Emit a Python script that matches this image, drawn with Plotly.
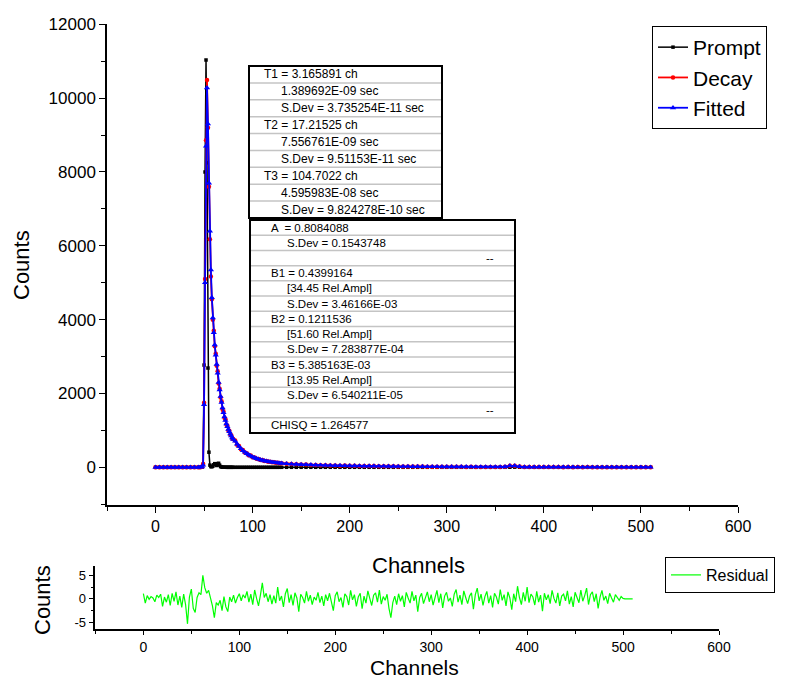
import plotly.graph_objects as go

# ---------------- data ----------------
channels = [0, 4, 8, 12, 16, 20, 24, 28, 32, 36, 40, 44, 46, 48,
            49, 50, 51, 52, 53, 54, 55, 56, 57, 58, 59, 60, 61, 62, 63, 64,
            65, 66, 67, 68, 69, 70, 71, 72, 73, 74, 75, 76, 77, 78, 79, 80,
            82, 84, 86, 88, 90, 92, 94, 96, 98, 100, 102, 104, 106, 108, 110,
            112, 114, 116, 118, 120, 122, 124, 126, 128, 130,
            135, 140, 145, 150, 155, 160, 165, 170, 175, 180, 185, 190, 195, 200,
            205, 210, 215, 220, 225, 230, 235, 240, 245, 250, 255, 260, 265, 270,
            275, 280, 285, 290, 295, 300, 305, 310, 315, 320, 325, 330, 335, 340,
            345, 350, 355, 360, 365, 370, 375, 380, 385, 390, 395, 400, 405, 410,
            415, 420, 425, 430, 435, 440, 445, 450, 455, 460, 465, 470, 475, 480,
            485, 490, 495, 500, 505, 510]

prompt = [0, 0, 0, 0, 0, 0, 0, 0, 0, 0, 0, 0, 0, 5,
          80, 2770, 8000, 11030, 8250, 2690, 410, 60, 20, 15, 30, 70, 100, 90, 50, 100,
          110, 60, 20, 10, 5, 3, 2, 2, 1, 1, 1, 1, 1, 1, 1, 1,
          1, 1, 1, 1, 1, 1, 1, 1, 1, 1, 1, 1, 1, 1, 1,
          1, 1, 1, 1, 1, 1, 1, 1, 1, 1,
          1, 1, 1, 1, 1, 1, 1, 1, 1, 1, 1, 1, 1, 1,
          1, 1, 1, 1, 1, 1, 1, 1, 1, 1, 1, 1, 1, 1,
          1, 1, 1, 1, 1, 1, 1, 1, 1, 1, 1, 1, 1, 1,
          1, 1, 1, 1, 3, 5, 3, 1, 1, 1, 1, 1, 1, 1,
          1, 1, 1, 1, 1, 1, 1, 1, 1, 1, 1, 1, 1, 1,
          1, 1, 1, 1, 1, 1]

decay = [3, 1, 2, 4, 2, 3, 1, 2, 3, 2, 1, 3, 4, 15,
         90, 1750, 5100, 8860, 10490, 9200, 7600, 6180, 5170, 4550, 4000, 3700, 3280, 3080, 2750, 2600,
         2270, 2130, 1890, 1790, 1580, 1510, 1340, 1300, 1160, 1120, 1000, 990, 880, 870, 780, 770,
         730, 615, 580, 490, 470, 400, 385, 330, 318, 275, 268, 232, 228, 198, 197,
         172, 172, 151, 153, 135, 136, 121, 122, 110, 111,
         100, 88, 85, 75, 74, 65, 65, 57, 58, 50, 52, 45, 47, 40,
         42, 36, 38, 33, 35, 29, 31, 27, 28, 24, 25, 22, 23, 20,
         21, 18, 19, 16, 17, 14, 16, 13, 14, 12, 13, 11, 12, 10,
         11, 9, 11, 18, 42, 40, 21, 8, 9, 7, 9, 6, 8, 6,
         7, 5, 7, 5, 6, 4, 6, 4, 5, 3, 5, 3, 5, 3,
         4, 2, 4, 2, 4, 2]

fitted = [2, 2, 2, 2, 2, 2, 2, 2, 2, 2, 2, 2, 3, 10,
          60, 1700, 5000, 8700, 10280, 9300, 7700, 6400, 5350, 4600, 4050, 3650, 3320, 3040, 2790, 2550,
          2300, 2100, 1920, 1760, 1610, 1480, 1370, 1270, 1180, 1100, 1030, 965, 905, 850, 800, 755,
          710, 630, 565, 505, 455, 410, 372, 338, 308, 282, 259, 239, 221, 205, 191,
          178, 167, 157, 148, 140, 132, 125, 119, 113, 108,
          98, 90, 83, 77, 72, 67, 63, 59, 56, 52, 50, 47, 45, 42,
          40, 38, 36, 34, 33, 31, 30, 28, 27, 25, 24, 23, 22, 21,
          20, 19, 18, 17, 16, 15, 15, 14, 13, 13, 12, 12, 11, 11,
          10, 10, 10, 16, 40, 42, 20, 9, 8, 8, 8, 7, 7, 7,
          6, 6, 6, 6, 5, 5, 5, 5, 4, 4, 4, 4, 4, 4,
          3, 3, 3, 3, 3, 3]

res_channels = list(range(0, 512, 2))
residual = [1.1, -0.9, 0.7, -0.1, 0.5, 0.2, -0.6, 0.8, 0.3, 1.0,
            -1.6, 0.4, -0.7, 0.9, -1.4, 1.2, -0.5, 1.5, -1.3, 0.6,
            -1.8, 1.0, -1.2, -5.3, 0.4, 2.1, -2.0, -2.9, 0.3, 1.3,
            0.9, 5.0, 2.4, 1.2, 1.8, 0.2, -1.5, -4.0, -0.8, -1.3,
            -0.3, -2.5, 0.5, -1.7, -2.7, 0.4, -0.6, 0.8, -0.9, 0.3,
            1.1, -0.4, 0.9, 0.2, 1.6, -0.7, 1.0, -1.2, 1.9, 0.1,
            -1.5, 0.8, 3.4, 0.3, 1.2, -0.6, 0.9, -1.1, 0.7, -0.9,
            2.5, -0.4, 0.6, -1.7, 1.1, 2.2, -0.8, 0.9, -1.4, 1.3,
            0.2, -2.7, 1.0, 0.3, -0.9, 1.6, -0.5, 0.8, -1.2, 0.4,
            -0.3, 1.4, -0.8, 0.6, -1.5, 0.9, -0.4, 1.2, -1.0, -2.5,
            0.7, 1.5, -0.6, 0.3, -1.8, 1.1, 0.5, -1.3, 1.8, -0.2,
            0.9, -1.6, 0.4, 1.2, -2.1, 0.6, -0.9, 1.7, 0.1, -1.4,
            0.8, 1.3, -0.7, 1.9, -1.1, 0.5, -0.3, 1.0, -2.0, -4.0,
            -0.8, 0.6, -1.2, 1.1, -0.5, 0.7, -1.7, 1.4, 0.2, -0.9,
            1.6, -0.4, 0.8, -2.7, 0.3, 1.2, -1.0, 0.5, 1.5, -0.6,
            0.9, -1.3, 0.4, 1.8, -0.8, 1.1, -1.9, 0.6, 1.4, -0.5,
            0.2, -1.6, 1.0, 2.0, -0.7, 0.8, -1.2, 1.7, 0.3, -1.0,
            0.6, 1.3, -2.2, 0.9, 2.3, -0.4, 1.0, -1.4, 0.5, 1.6,
            -0.9, 0.7, -1.8, 1.2, 0.4, -1.1, 2.0, -0.3, 0.9, -1.5,
            1.5, 0.2, -2.3, 1.1, -0.6, 2.7, 0.3, -1.2, 1.4, -0.5,
            2.5, -0.8, 1.0, 0.4, -1.3, 1.6, -0.7, 0.8, -2.6, 1.2,
            -0.2, 0.9, -1.0, 1.8, 0.1, -0.9, 1.3, -1.5, 0.6, 1.0,
            -0.4, 1.7, -1.1, 0.5, -1.7, 1.4, 0.3, -0.8, 1.9, -0.5,
            0.7, 2.3, -1.2, 0.9, 1.5, -0.6, 1.1, -2.0, 0.4, 1.8,
            -0.3, 0.6, -1.0, 1.2, 0.2, -0.7, 0.9, 0.4, -0.3, 0.5,
            0.1, 0.0, 0.0, 0.0, 0.0, 0.0]

table1_rows = ["T1 = 3.165891 ch", "1.389692E-09 sec", "S.Dev = 3.735254E-11 sec",
               "T2 = 17.21525 ch", "7.556761E-09 sec", "S.Dev = 9.51153E-11 sec",
               "T3 = 104.7022 ch", "4.595983E-08 sec", "S.Dev = 9.824278E-10 sec"]
table1_indent = [0, 1, 1, 0, 1, 1, 0, 1, 1]

table2_rows = ["A  = 0.8084088", "S.Dev = 0.1543748", "--",
               "B1 = 0.4399164", "[34.45 Rel.Ampl]", "S.Dev = 3.46166E-03",
               "B2 = 0.1211536", "[51.60 Rel.Ampl]", "S.Dev = 7.283877E-04",
               "B3 = 5.385163E-03", "[13.95 Rel.Ampl]", "S.Dev = 6.540211E-05",
               "--", "CHISQ = 1.264577"]
table2_indent = [0, 1, 2, 0, 1, 1, 0, 1, 1, 0, 1, 1, 2, 0]

# ---------------- layout helpers ----------------
W, H = 798, 680
FONT = "Liberation Sans, Arial, sans-serif"


def fx(p):
    return p / W


def fy(p):
    return 1 - p / H


fig = go.Figure()

fig.add_trace(go.Scatter(x=channels, y=prompt, name="Prompt", mode="lines+markers",
                         line=dict(color="black", width=1.5),
                         marker=dict(symbol="square", size=3.5, color="black"),
                         xaxis="x", yaxis="y", legend="legend"))
fig.add_trace(go.Scatter(x=channels, y=decay, name="Decay", mode="lines+markers",
                         line=dict(color="#ff0000", width=1.8),
                         marker=dict(symbol="circle", size=4.5, color="#ff0000"),
                         xaxis="x", yaxis="y", legend="legend"))
fig.add_trace(go.Scatter(x=channels, y=fitted, name="Fitted", mode="lines+markers",
                         line=dict(color="#0000ff", width=1.8),
                         marker=dict(symbol="triangle-up", size=5.5, color="#0000ff"),
                         xaxis="x", yaxis="y", legend="legend"))
fig.add_trace(go.Scatter(x=res_channels, y=residual, name="Residual", mode="lines",
                         line=dict(color="#00ff00", width=1.2),
                         xaxis="x2", yaxis="y2", legend="legend2"))

axis_common = dict(showline=True, linecolor="black", linewidth=1.5, showgrid=False,
                   zeroline=False, ticks="outside", tickcolor="black", tickwidth=1.2,
                   mirror=False)

shapes = []
annotations = []

# table 1
t1_x0, t1_x1, t1_y0, t1_y1 = 249, 442, 66, 218
n1 = len(table1_rows)
h1 = (t1_y1 - t1_y0) / n1
shapes.append(dict(type="rect", xref="paper", yref="paper", x0=fx(t1_x0), x1=fx(t1_x1),
                   y0=fy(t1_y1), y1=fy(t1_y0), fillcolor="white",
                   line=dict(color="black", width=2), layer="above"))
for i in range(1, n1):
    yy = t1_y0 + i * h1
    shapes.append(dict(type="line", xref="paper", yref="paper", x0=fx(t1_x0 + 1), x1=fx(t1_x1 - 1),
                       y0=fy(yy), y1=fy(yy), line=dict(color="#c4c4c4", width=1.5)))
for i, (txt, ind) in enumerate(zip(table1_rows, table1_indent)):
    yy = t1_y0 + (i + 0.5) * h1
    annotations.append(dict(xref="paper", yref="paper", x=fx(262 if ind == 0 else 279), y=fy(yy),
                            text=txt, showarrow=False, xanchor="left", yanchor="middle",
                            font=dict(family=FONT, size=12, color="black")))

# table 2
t2_x0, t2_x1, t2_y0, t2_y1 = 250, 515, 220, 433
n2 = len(table2_rows)
h2 = (t2_y1 - t2_y0) / n2
shapes.append(dict(type="rect", xref="paper", yref="paper", x0=fx(t2_x0), x1=fx(t2_x1),
                   y0=fy(t2_y1), y1=fy(t2_y0), fillcolor="white",
                   line=dict(color="black", width=2), layer="above"))
for i in range(1, n2):
    yy = t2_y0 + i * h2
    shapes.append(dict(type="line", xref="paper", yref="paper", x0=fx(t2_x0 + 1), x1=fx(t2_x1 - 1),
                       y0=fy(yy), y1=fy(yy), line=dict(color="#c4c4c4", width=1.5)))
for i, (txt, ind) in enumerate(zip(table2_rows, table2_indent)):
    yy = t2_y0 + (i + 0.5) * h2
    if ind == 2:
        annotations.append(dict(xref="paper", yref="paper", x=fx(496), y=fy(yy),
                                text=txt, showarrow=False, xanchor="right", yanchor="middle",
                                font=dict(family=FONT, size=11.5, color="black")))
    else:
        annotations.append(dict(xref="paper", yref="paper", x=fx(269 if ind == 0 else 285), y=fy(yy),
                                text=txt, showarrow=False, xanchor="left", yanchor="middle",
                                font=dict(family=FONT, size=11.5, color="black")))

# axis titles
title_font = dict(family=FONT, size=22, color="black")
annotations += [
    dict(xref="paper", yref="paper", x=fx(22), y=fy(265), text="Counts", textangle=-90,
         showarrow=False, xanchor="center", yanchor="middle", font=title_font),
    dict(xref="paper", yref="paper", x=fx(418), y=fy(565), text="Channels",
         showarrow=False, xanchor="center", yanchor="middle", font=title_font),
    dict(xref="paper", yref="paper", x=fx(42), y=fy(600), text="Counts", textangle=-90,
         showarrow=False, xanchor="center", yanchor="middle", font=title_font),
    dict(xref="paper", yref="paper", x=fx(414), y=0, text="Channels",
         showarrow=False, xanchor="center", yanchor="bottom", borderpad=0,
         font=dict(family=FONT, size=21, color="black")),
]

fig.update_layout(
    width=W, height=H, margin=dict(l=0, r=0, t=0, b=0, autoexpand=False),
    paper_bgcolor="white", plot_bgcolor="white",
    font=dict(family=FONT, color="black"),
    xaxis=dict(axis_common, domain=[fx(107), fx(738)], range=[-50, 600], anchor="y",
               tick0=0, dtick=100, ticklen=6, tickfont=dict(size=16), tickformat="d",
               minor=dict(dtick=50, tick0=0, ticklen=4, ticks="outside", tickcolor="black")),
    yaxis=dict(axis_common, domain=[fy(505), fy(24.3)], range=[-1020, 12000], anchor="x",
               tick0=0, dtick=2000, ticklen=6, tickfont=dict(size=17), tickformat="d",
               minor=dict(dtick=1000, tick0=0, ticklen=4, ticks="outside", tickcolor="black")),
    xaxis2=dict(axis_common, domain=[fx(95.4), fx(719)], range=[-50, 600], anchor="y2",
                tick0=0, dtick=100, ticklen=4, tickfont=dict(size=14), tickformat="d",
                minor=dict(dtick=50, tick0=0, ticklen=3, ticks="outside", tickcolor="black")),
    yaxis2=dict(axis_common, domain=[fy(629), fy(566)], range=[-6.4, 7], anchor="x2",
                tickvals=[-5, 0, 5], ticktext=["-5", "0", "5"], ticklen=5, tickfont=dict(size=13),
                minor=dict(dtick=2.5, tick0=0, ticklen=3, ticks="outside", tickcolor="black")),
    legend=dict(x=fx(652), y=fy(26), xanchor="left", yanchor="top",
                bordercolor="black", borderwidth=1, bgcolor="white",
                font=dict(family=FONT, size=21, color="black"),
                tracegroupgap=0),
    legend2=dict(x=fx(665), y=fy(557), xanchor="left", yanchor="top",
                 bordercolor="black", borderwidth=1, bgcolor="white",
                 font=dict(family=FONT, size=16, color="black")),
    shapes=shapes, annotations=annotations, showlegend=True,
)

fig.write_html("out.html")
